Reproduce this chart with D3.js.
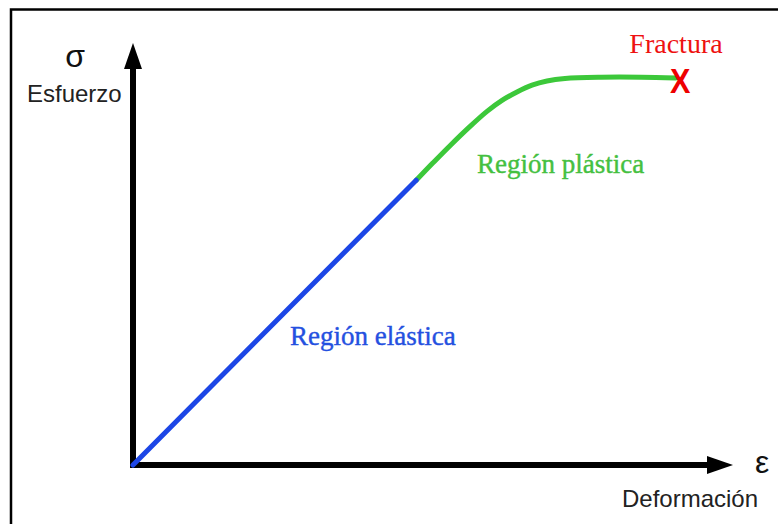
<!DOCTYPE html>
<html><head><meta charset="utf-8">
<script src="https://cdn.jsdelivr.net/npm/d3@7"></script>
<style>html,body{margin:0;padding:0;background:#fff;}svg{display:block;}</style>
</head><body>
<script>
// Data (strain %, stress %)
const elasticX = [0, 47.2];
const elasticY = [0, 67.5];
const plasticX = [47.2, 50.0, 53.0, 56.0, 59.0, 61.5, 64.0, 66.5, 69.0, 72.0, 78.0, 84.7, 90.5];
const plasticY = [67.5, 71.6, 75.9, 80.0, 83.8, 86.4, 88.4, 90.0, 91.0, 91.6, 91.9, 91.9, 91.7];
const fractureX = [91.2];
const fractureY = [91.2];
const labels = ["σ", "Esfuerzo", "ε", "Deformación", "Región elástica", "Región plástica", "Fractura", "X"];

const W = 778, H = 524;
const svg = d3.select("body").append("svg").attr("width", W).attr("height", H);
const x = d3.scaleLinear().domain([0, 100]).range([133, 733]);
const y = d3.scaleLinear().domain([0, 100]).range([465, 43]);

// frame (top and left border)
svg.append("path").attr("d", `M11,${H} L11,9.5 L${W},9.5`).attr("fill", "none")
  .attr("stroke", "#000").attr("stroke-width", 2.5);

// axes
svg.append("line").attr("x1", x(0) - 3).attr("x2", x(0) - 3 + 580).attr("y1", y(0)).attr("y2", y(0))
  .attr("stroke", "#000").attr("stroke-width", 6);
svg.append("line").attr("x1", x(0)).attr("x2", x(0)).attr("y1", y(0) + 3).attr("y2", y(100) + 20)
  .attr("stroke", "#000").attr("stroke-width", 6);
// arrow heads
svg.append("path").attr("d", `M${x(100)},${y(0)} L${x(100) - 26},${y(0) - 9} L${x(100) - 26},${y(0) + 9} Z`).attr("fill", "#000");
svg.append("path").attr("d", `M${x(0)},${y(100)} L${x(0) - 9},${y(100) + 26} L${x(0) + 9},${y(100) + 26} Z`).attr("fill", "#000");

svg.append("path").datum(plasticX.map((v, i) => [v, plasticY[i]]))
  .attr("d", d3.line().x(d => x(d[0])).y(d => y(d[1])).curve(d3.curveCatmullRom.alpha(0.5)))
  .attr("fill", "none")
  .attr("stroke", "#3cc83a").attr("stroke-width", 5).attr("stroke-linecap", "round");
svg.append("path").datum(elasticX.map((v, i) => [v, elasticY[i]]))
  .attr("d", d3.line().x(d => x(d[0])).y(d => y(d[1]))).attr("fill", "none")
  .attr("stroke", "#1c46e6").attr("stroke-width", 5).attr("stroke-linecap", "round");

const sans = "'Liberation Sans', Arial, sans-serif";
const serif = "'Liberation Serif', 'Times New Roman', serif";
// axis labels
svg.append("text").attr("x", 75).attr("y", 67).attr("text-anchor", "middle")
  .attr("font-family", sans).attr("font-size", 32).attr("fill", "#111").text(labels[0]);
svg.append("text").attr("x", 27).attr("y", 102)
  .attr("font-family", sans).attr("font-size", 24).attr("fill", "#222").text(labels[1]);
svg.append("text").attr("x", 755).attr("y", 473)
  .attr("font-family", sans).attr("font-size", 32).attr("fill", "#111").text(labels[2]);
svg.append("text").attr("x", 622).attr("y", 507)
  .attr("font-family", sans).attr("font-size", 24).attr("fill", "#222").text(labels[3]);

// region labels
svg.append("text").attr("x", 290).attr("y", 345)
  .attr("font-family", serif).attr("font-size", 27).attr("fill", "#2450e0")
  .attr("stroke", "#2450e0").attr("stroke-width", 0.4).text(labels[4]);
svg.append("text").attr("x", 477).attr("y", 173)
  .attr("font-family", serif).attr("font-size", 27).attr("fill", "#44c040")
  .attr("stroke", "#44c040").attr("stroke-width", 0.4).text(labels[5]);
svg.append("text").attr("x", 676).attr("y", 53).attr("text-anchor", "middle")
  .attr("font-family", serif).attr("font-size", 28).attr("fill", "#ee1111").text(labels[6]);

// fracture mark
svg.append("text")
  .attr("transform", `translate(${x(fractureX[0])},${y(fractureY[0]) + 13}) scale(0.85,1)`)
  .attr("text-anchor", "middle").attr("font-family", sans).attr("font-weight", "bold")
  .attr("font-size", 36).attr("fill", "#ee0000").text(labels[7]);
</script>
</body></html>
